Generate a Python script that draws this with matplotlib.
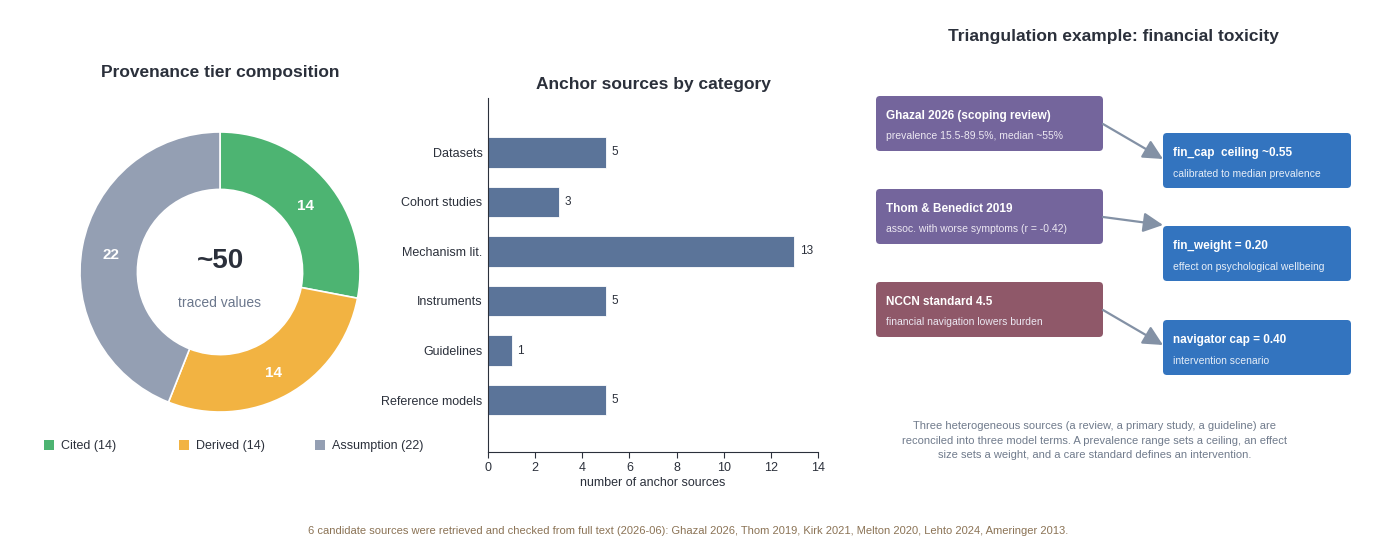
import matplotlib
matplotlib.use('Agg')
import numpy as np
import matplotlib.pyplot as plt
from matplotlib.patches import FancyBboxPatch, Rectangle

plt.rcParams['font.family'] = ['Liberation Sans', 'DejaVu Sans']

# data
tiers = ['Cited', 'Derived', 'Assumption']
tier_counts = [14, 14, 22]
tier_colors = ['#4db472', '#f2b342', '#949fb3']

categories = ['Datasets', 'Cohort studies', 'Mechanism lit.', 'Instruments', 'Guidelines', 'Reference models']
anchor_counts = [5, 3, 13, 5, 1, 5]

sources = [('Ghazal 2026 (scoping review)', 'prevalence 15.5-89.5%, median ~55%'),
           ('Thom & Benedict 2019', 'assoc. with worse symptoms (r = -0.42)'),
           ('NCCN standard 4.5', 'financial navigation lowers burden')]
source_colors = ['#74659c', '#74659c', '#8f5869']
terms = [('fin_cap  ceiling ~0.55', 'calibrated to median prevalence'),
         ('fin_weight = 0.20', 'effect on psychological wellbeing'),
         ('navigator cap = 0.40', 'intervention scenario')]

dark = '#2b303b'
W, H = 1375, 542
fig = plt.figure(figsize=(W / 100, H / 100), dpi=100)

def fbox(x, y, w, h):
    # pixel box (top-left origin) -> figure fraction
    return [x / W, 1 - (y + h) / H, w / W, h / H]

# overlay axes in pixel coords for annotations / boxes
ax3 = fig.add_axes([0, 0, 1, 1])
ax3.set_xlim(0, W)
ax3.set_ylim(H, 0)
ax3.axis('off')

# ---- donut ----
ax1 = fig.add_axes(fbox(80, 132, 280, 280))
wedges, _ = ax1.pie(tier_counts, colors=tier_colors, startangle=90, counterclock=False,
                    radius=1.0, wedgeprops=dict(width=0.41, edgecolor='white', linewidth=1.2))
ax1.set_xlim(-1.0, 1.0)
ax1.set_ylim(-1.0, 1.0)
total = sum(tier_counts)
start = 90
for n in tier_counts:
    mid = np.deg2rad(start - 360 * n / total / 2)
    ax1.text(0.79 * np.cos(mid), 0.79 * np.sin(mid) - 0.03, str(n), ha='center', va='center',
             color='white', fontsize=11, fontweight='bold')
    start -= 360 * n / total
ax1.text(0, 0.08, '~50', ha='center', va='center', fontsize=20, fontweight='bold', color=dark)
ax1.text(0, -0.22, 'traced values', ha='center', va='center', fontsize=10, color='#6b778c')
ax3.text(220, 72, 'Provenance tier composition', ha='center', va='center',
         fontsize=12.5, fontweight='bold', color=dark)
# legend row
legend_x = [49, 184, 320]
for x, c, t, n in zip(legend_x, tier_colors, tiers, tier_counts):
    ax3.add_patch(Rectangle((x - 5, 440), 10, 10, facecolor=c, edgecolor='none'))
    ax3.text(x + 12, 445.5, f'{t} ({n})', ha='left', va='center', fontsize=9, color=dark)

# ---- bars ----
ax2 = fig.add_axes(fbox(488, 98, 330, 354))
y = np.arange(len(categories))
ax2.barh(y, anchor_counts, height=0.62, color='#5b7499', edgecolor='white', linewidth=0.6)
for yi, v in zip(y, anchor_counts):
    ax2.text(v + 0.25, yi, str(v), va='center', ha='left', fontsize=8.5, color=dark)
ax2.set_yticks(y)
ax2.set_yticklabels(categories, fontsize=9, color=dark)
ax2.set_ylim(6.05, -1.1)
ax2.set_xlim(0, 14)
ax2.set_xticks(range(0, 15, 2))
ax2.tick_params(axis='x', labelsize=9, colors=dark, length=4)
ax2.tick_params(axis='y', length=0, pad=4)
ax2.set_xlabel('number of anchor sources', fontsize=9, color=dark, labelpad=2)
for s in ['top', 'right']:
    ax2.spines[s].set_visible(False)
for s in ['left', 'bottom']:
    ax2.spines[s].set_color(dark)
    ax2.spines[s].set_linewidth(0.8)
ax3.text(653, 85, 'Anchor sources by category', ha='center', va='center',
         fontsize=12.5, fontweight='bold', color=dark)

# ---- triangulation panel ----
ax3.text(1113, 37, 'Triangulation example: financial toxicity', ha='center', va='center',
         fontsize=12.5, fontweight='bold', color=dark)

left_tops = [96, 189, 282]
right_tops = [133, 226, 320]
arrow_ends = [159, 225, 345]
for i in range(3):
    lt, rt = left_tops[i], right_tops[i]
    ax3.add_patch(FancyBboxPatch((876, lt), 227, 55, boxstyle='round,pad=0,rounding_size=4',
                                 facecolor=source_colors[i], edgecolor='none'))
    ax3.text(886, lt + 20, sources[i][0], ha='left', va='center', fontsize=8.5,
             fontweight='bold', color='white')
    ax3.text(886, lt + 40, sources[i][1], ha='left', va='center', fontsize=7.5, color='#ece8f2')
    ax3.add_patch(FancyBboxPatch((1163, rt), 188, 55, boxstyle='round,pad=0,rounding_size=4',
                                 facecolor='#3374bf', edgecolor='none'))
    ax3.text(1173, rt + 20, terms[i][0], ha='left', va='center', fontsize=8.5,
             fontweight='bold', color='white')
    ax3.text(1173, rt + 41, terms[i][1], ha='left', va='center', fontsize=7.5, color='#e6eef8')
    ax3.annotate('', xy=(1163, arrow_ends[i]), xytext=(1103, lt + 28),
                 arrowprops=dict(arrowstyle='-|>,head_length=0.6,head_width=0.3', color='#8391a5',
                                 lw=1.6, mutation_scale=20, shrinkA=0, shrinkB=0))

ax3.text(1095, 440.5, 'Three heterogeneous sources (a review, a primary study, a guideline) are\n'
         'reconciled into three model terms. A prevalence range sets a ceiling, an effect\n'
         'size sets a weight, and a care standard defines an intervention.',
         ha='center', va='center', fontsize=8, color='#707b8c', linespacing=1.6)

ax3.text(688, 531, '6 candidate sources were retrieved and checked from full text (2026-06): '
         'Ghazal 2026, Thom 2019, Kirk 2021, Melton 2020, Lehto 2024, Ameringer 2013.',
         ha='center', va='center', fontsize=8, color='#8b7355')

fig.savefig('out.png', dpi=100)
